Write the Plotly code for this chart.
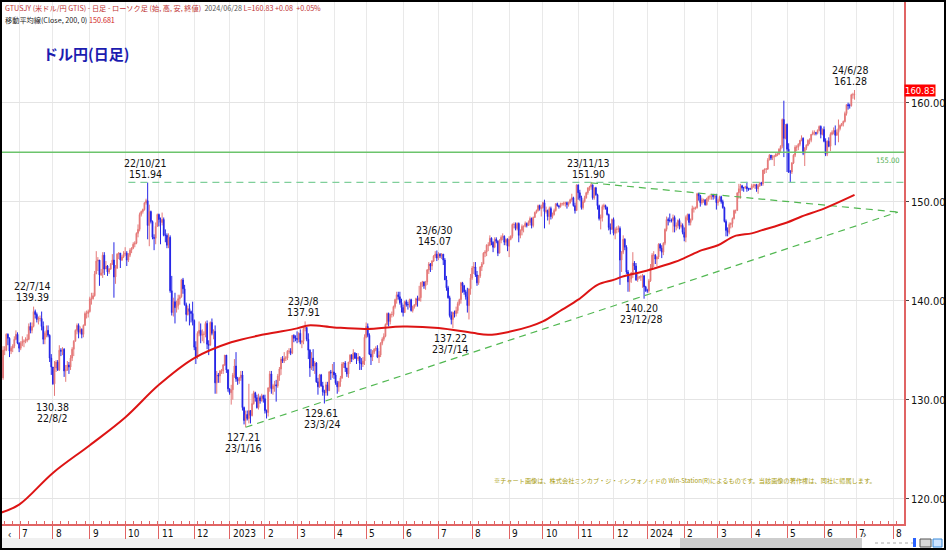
import pandas as pd
import plotly.graph_objects as go

# ---------------- DATA (USD/JPY daily) ----------------
first_open = 134.3

# 2022: Jun(from 16th) .. Dec
close_2022 = [
    [132.2, 135.0, 135.0, 136.6, 136.2, 134.9, 135.2, 135.4, 136.1, 136.6, 135.7],
    [135.2, 135.7, 135.9, 135.9, 136.0, 136.1, 137.4, 137.0, 137.4, 138.9, 138.6, 138.1, 138.2, 138.2, 137.4, 136.1, 136.7, 137.0, 136.5, 134.2, 133.3],
    [131.6, 133.2, 133.8, 133.0, 135.0, 134.9, 135.1, 132.9, 133.0, 133.5, 133.3, 134.2, 135.1, 135.9, 137.0, 137.5, 136.8, 137.1, 136.6, 137.5, 138.7, 138.7, 138.9],
    [140.2, 140.2, 140.5, 142.7, 144.0, 144.1, 142.6, 142.8, 144.6, 143.2, 143.5, 142.9, 143.2, 143.7, 144.1, 142.4, 143.3, 144.7, 144.8, 144.1, 144.4, 144.7],
    [144.8, 144.1, 144.6, 145.1, 145.3, 145.7, 145.8, 146.8, 147.2, 148.7, 149.0, 149.2, 149.9, 150.1, 147.6, 149.0, 148.0, 146.4, 146.3, 147.5, 148.7],
    [148.2, 147.9, 148.2, 146.6, 146.6, 145.6, 146.4, 141.0, 138.8, 139.9, 139.3, 139.5, 140.2, 140.4, 142.1, 141.2, 139.6, 138.6, 139.2, 138.9, 138.7, 138.0],
    [135.3, 134.3, 136.7, 137.0, 136.5, 136.6, 136.6, 137.7, 135.6, 135.5, 137.8, 136.7, 136.9, 131.7, 132.5, 132.4, 132.9, 132.9, 133.5, 134.5, 133.0, 131.1],
]
high_2022 = [
    [134.6, 135.4, 135.4, 136.7, 136.7, 136.3, 135.4, 135.6, 136.4, 137.0, 136.8],
    [135.8, 135.9, 136.4, 136.1, 136.3, 136.6, 137.7, 137.8, 137.8, 139.4, 139.1, 138.8, 138.4, 138.5, 138.9, 137.9, 136.9, 137.5, 137.5, 136.6, 134.6],
    [133.3, 133.9, 134.0, 134.0, 135.5, 135.2, 135.3, 135.2, 133.5, 133.9, 133.8, 134.5, 135.3, 136.0, 137.1, 137.7, 137.7, 137.4, 137.2, 137.6, 138.9, 139.0, 139.1],
    [140.4, 140.8, 140.8, 143.0, 145.0, 144.4, 144.1, 143.2, 144.9, 144.9, 144.0, 143.6, 143.3, 143.8, 144.7, 145.9, 143.6, 144.8, 144.9, 144.8, 144.6, 145.0],
    [145.4, 145.0, 144.8, 145.3, 145.4, 145.9, 146.0, 146.9, 147.7, 148.9, 149.1, 149.3, 149.9, 150.3, 151.94, 149.7, 149.1, 148.1, 146.7, 147.9, 148.8],
    [148.8, 148.4, 148.9, 148.4, 147.2, 146.8, 146.8, 146.6, 142.5, 140.3, 140.8, 140.0, 140.6, 140.6, 142.2, 142.3, 141.6, 139.8, 139.5, 139.7, 139.0, 139.9],
    [138.1, 135.9, 136.9, 137.9, 137.7, 137.1, 136.9, 137.9, 138.0, 136.0, 137.9, 138.2, 137.1, 137.5, 132.9, 132.7, 133.0, 133.1, 133.6, 134.5, 134.4, 133.1],
]
low_2022 = [
    [131.5, 132.0, 134.5, 134.9, 135.5, 134.3, 134.6, 134.8, 135.2, 136.0, 135.6],
    [134.8, 135.0, 135.4, 135.3, 135.7, 135.8, 136.0, 136.7, 136.7, 137.3, 138.2, 137.8, 137.6, 137.9, 137.0, 135.6, 135.6, 136.3, 136.3, 133.8, 132.5],
    [131.5, 130.38, 132.8, 132.9, 132.9, 134.4, 134.5, 132.3, 131.8, 132.9, 132.6, 133.0, 133.9, 134.4, 135.9, 136.6, 136.2, 136.6, 136.2, 136.3, 137.8, 138.2, 138.3],
    [138.8, 139.6, 140.1, 140.4, 142.8, 143.0, 141.5, 142.5, 142.3, 142.6, 143.2, 142.5, 142.7, 143.1, 143.6, 140.3, 141.7, 143.2, 144.2, 143.3, 144.0, 144.3],
    [144.5, 143.5, 143.9, 144.4, 144.8, 145.2, 145.4, 145.7, 146.4, 147.0, 148.5, 148.8, 149.1, 149.7, 146.2, 145.5, 147.8, 146.2, 145.1, 145.7, 147.6],
    [147.5, 145.7, 147.6, 146.5, 145.9, 145.3, 145.3, 140.8, 138.5, 138.4, 137.7, 138.8, 139.1, 139.6, 140.3, 140.7, 139.5, 137.9, 138.5, 137.5, 137.8, 137.5],
    [135.0, 133.6, 134.1, 136.4, 135.7, 135.9, 135.7, 136.3, 135.1, 134.5, 135.5, 136.5, 136.1, 130.6, 130.6, 131.7, 131.7, 132.6, 132.6, 133.4, 132.7, 130.8],
]

# 2023: Jan .. Dec
close_2023 = [
    [130.7, 131.0, 132.5, 133.4, 132.1, 131.9, 132.2, 132.5, 129.2, 127.9, 128.5, 128.1, 128.9, 128.4, 129.6, 130.7, 130.2, 129.2, 130.2, 129.9, 130.4, 130.1],
    [128.9, 128.7, 131.2, 132.6, 131.1, 131.4, 131.5, 131.4, 132.4, 133.1, 134.1, 133.9, 134.2, 134.2, 134.9, 134.9, 134.7, 136.5, 136.2, 136.2],
    [136.1, 136.7, 135.8, 135.9, 137.2, 137.3, 136.1, 135.0, 133.2, 134.2, 133.4, 133.7, 131.8, 131.3, 132.5, 131.4, 130.8, 130.7, 131.5, 130.9, 132.8, 132.7, 132.8],
    [132.5, 131.7, 131.3, 131.8, 132.2, 133.6, 133.7, 133.2, 132.6, 133.8, 134.5, 134.1, 134.7, 134.2, 134.1, 134.3, 133.7, 133.6, 133.9, 136.3],
    [137.4, 136.5, 134.6, 134.3, 134.8, 135.1, 135.2, 134.3, 134.5, 135.7, 136.1, 136.4, 137.6, 138.7, 137.9, 138.6, 138.6, 139.4, 140.1, 140.6, 140.4, 139.8, 139.3],
    [138.8, 139.9, 139.6, 139.6, 140.1, 139.0, 139.4, 139.6, 140.2, 140.0, 140.3, 141.8, 141.9, 141.5, 141.9, 143.1, 143.7, 143.5, 144.0, 144.5, 144.7, 144.3],
    [144.7, 144.5, 144.7, 144.1, 142.1, 141.3, 140.3, 138.5, 138.1, 138.8, 138.7, 139.0, 139.7, 140.1, 141.8, 141.5, 140.9, 140.4, 139.5, 141.2, 142.3],
    [143.3, 143.4, 142.6, 141.8, 142.5, 143.4, 143.7, 144.8, 144.9, 145.6, 145.6, 146.3, 145.9, 145.4, 146.2, 146.0, 144.8, 146.1, 146.4, 146.5, 145.9, 146.2, 145.5],
    [146.2, 146.5, 147.7, 147.7, 147.3, 147.8, 146.6, 147.1, 147.5, 147.5, 147.8, 147.6, 147.9, 148.3, 147.6, 148.4, 148.9, 149.1, 149.6, 149.3, 149.4],
    [149.9, 149.0, 149.1, 148.5, 149.3, 148.5, 148.7, 149.1, 149.8, 149.6, 149.5, 149.8, 149.8, 149.8, 149.9, 149.7, 149.9, 150.2, 150.4, 149.6, 149.1, 151.7],
    [150.9, 150.4, 149.4, 150.0, 150.4, 150.9, 151.4, 151.5, 151.7, 150.4, 151.4, 150.7, 149.6, 148.3, 148.4, 149.5, 149.6, 149.4, 148.7, 147.4, 147.2, 148.2],
    [146.8, 147.2, 147.2, 147.3, 144.1, 144.9, 146.2, 145.4, 142.9, 141.9, 142.2, 142.8, 143.8, 143.5, 142.1, 142.4, 142.4, 142.4, 142.5, 141.4, 141.0],
]
high_2023 = [
    [131.1, 131.5, 132.7, 134.1, 134.8, 132.3, 132.3, 132.9, 132.9, 129.3, 128.9, 128.9, 131.6, 128.9, 130.6, 130.9, 130.8, 130.5, 130.6, 130.4, 130.6, 130.5],
    [130.5, 129.0, 131.2, 132.9, 132.9, 131.6, 131.9, 132.0, 132.6, 133.3, 134.3, 134.4, 134.8, 134.4, 135.0, 135.2, 135.2, 136.5, 136.6, 136.5],
    [136.9, 136.8, 137.1, 136.0, 137.4, 137.91, 137.3, 136.7, 135.1, 134.8, 135.1, 133.9, 133.8, 132.2, 132.6, 132.6, 131.8, 131.0, 131.8, 131.8, 132.9, 133.0, 133.6],
    [133.8, 132.7, 131.9, 131.9, 132.4, 133.8, 133.8, 133.9, 133.2, 133.8, 134.6, 134.6, 135.1, 134.8, 134.7, 134.7, 134.4, 134.2, 134.3, 136.6],
    [137.8, 137.7, 136.7, 135.1, 135.0, 135.2, 135.4, 135.5, 134.9, 135.8, 136.3, 136.7, 137.7, 138.8, 138.8, 138.7, 138.9, 139.5, 140.2, 140.9, 140.9, 140.9, 140.2],
    [139.6, 140.0, 140.1, 139.9, 140.2, 140.2, 139.5, 139.6, 140.3, 140.5, 141.5, 141.9, 142.0, 141.9, 142.0, 143.2, 143.9, 143.8, 144.1, 144.6, 145.0, 145.07],
    [144.9, 144.8, 144.8, 144.7, 144.3, 142.5, 141.5, 140.5, 138.9, 138.9, 139.0, 139.4, 139.9, 140.2, 141.9, 141.9, 141.6, 141.1, 141.3, 141.2, 142.7],
    [143.5, 143.9, 143.9, 143.0, 142.6, 143.5, 143.9, 144.9, 145.1, 145.7, 145.9, 146.6, 146.4, 146.0, 146.4, 146.4, 146.1, 146.2, 146.6, 146.8, 146.6, 146.3, 146.3],
    [146.5, 146.6, 147.8, 147.9, 147.9, 147.9, 147.9, 147.2, 147.7, 147.6, 148.0, 147.9, 148.1, 148.5, 148.4, 148.5, 149.0, 149.2, 149.7, 149.7, 149.7],
    [150.0, 150.2, 149.5, 149.2, 149.5, 149.5, 148.9, 149.3, 149.8, 149.9, 149.6, 149.9, 149.9, 150.0, 150.0, 150.0, 150.0, 150.3, 150.8, 150.5, 149.9, 151.7],
    [151.7, 151.2, 150.6, 150.2, 150.6, 151.0, 151.4, 151.6, 151.9, 151.7, 151.4, 151.5, 150.8, 149.7, 148.7, 149.7, 149.8, 149.7, 149.5, 148.8, 147.8, 148.3],
    [148.4, 147.4, 147.5, 147.6, 147.5, 145.0, 146.6, 146.3, 145.6, 143.1, 142.6, 142.9, 144.9, 144.0, 143.8, 142.8, 142.5, 142.6, 142.7, 142.6, 141.5],
]
low_2023 = [
    [130.5, 129.5, 130.0, 132.2, 131.8, 131.5, 131.6, 131.9, 128.9, 127.5, 127.21, 127.9, 127.6, 127.6, 128.3, 129.5, 129.8, 129.1, 129.0, 129.6, 129.8, 129.7],
    [128.6, 128.1, 128.3, 130.8, 130.6, 130.5, 130.8, 129.8, 131.2, 131.9, 132.5, 133.7, 133.7, 133.9, 134.0, 134.6, 134.5, 134.6, 135.8, 135.9],
    [135.7, 135.8, 135.6, 135.2, 135.6, 136.9, 135.9, 134.1, 132.3, 133.0, 132.9, 132.6, 131.7, 130.5, 131.2, 131.3, 130.4, 129.61, 130.4, 130.4, 130.9, 132.0, 132.2],
    [132.1, 131.5, 130.6, 130.8, 131.3, 132.1, 133.2, 132.8, 132.3, 132.2, 133.6, 133.8, 134.0, 134.1, 133.6, 133.9, 133.0, 133.0, 133.3, 133.5],
    [136.2, 136.3, 134.5, 133.5, 133.9, 134.6, 134.9, 134.2, 133.7, 134.3, 135.5, 135.9, 136.3, 137.5, 137.4, 137.6, 138.3, 138.4, 139.2, 139.7, 140.1, 139.6, 138.8],
    [138.4, 138.8, 139.4, 139.1, 139.3, 138.9, 138.8, 139.2, 139.4, 139.4, 140.0, 139.9, 141.4, 141.2, 141.1, 141.6, 142.7, 142.9, 143.1, 143.9, 144.3, 144.0],
    [144.1, 144.3, 144.2, 143.6, 142.1, 141.0, 140.2, 138.3, 137.6, 137.22, 138.3, 138.4, 138.7, 139.5, 139.7, 140.8, 140.6, 140.1, 138.8, 138.1, 140.6],
    [142.1, 142.7, 142.4, 141.5, 141.6, 142.3, 143.0, 143.8, 144.4, 144.5, 145.0, 145.5, 145.6, 144.9, 145.3, 145.8, 144.5, 144.8, 145.8, 146.1, 145.6, 145.6, 145.0],
    [144.4, 146.1, 146.3, 147.3, 147.1, 147.1, 145.9, 146.3, 146.6, 146.9, 147.4, 147.4, 147.6, 147.6, 147.3, 147.4, 148.4, 148.8, 149.0, 149.1, 148.5],
    [149.3, 147.3, 148.8, 148.1, 147.7, 148.2, 148.3, 148.6, 149.0, 149.5, 149.3, 149.4, 149.6, 149.6, 149.5, 149.3, 149.5, 149.8, 150.0, 149.5, 148.8, 149.1],
    [150.2, 150.1, 149.2, 149.2, 149.9, 150.3, 150.7, 151.1, 151.2, 150.2, 150.2, 150.6, 149.2, 148.1, 147.2, 148.0, 149.2, 149.2, 148.6, 147.1, 146.7, 147.2],
    [146.6, 146.2, 146.8, 146.9, 141.6, 142.9, 144.7, 145.1, 142.7, 140.9, 140.9, 141.8, 142.3, 143.1, 142.0, 141.9, 142.2, 142.0, 141.3, 140.2, 140.9],
]

# 2024: Jan .. Jun(to 28th)
close_2024 = [
    [141.0, 142.0, 143.3, 144.6, 144.6, 144.2, 144.4, 145.7, 145.3, 144.9, 145.8, 147.2, 148.2, 148.1, 148.1, 148.1, 148.4, 147.5, 147.6, 148.1, 147.5, 147.6, 146.9],
    [146.4, 148.4, 148.7, 147.9, 148.2, 149.3, 149.3, 149.4, 150.8, 150.6, 149.9, 150.2, 150.2, 149.7, 150.3, 150.5, 150.5, 150.7, 150.5, 150.6, 149.9],
    [150.1, 150.5, 150.0, 149.4, 148.0, 147.1, 146.9, 147.7, 147.8, 148.3, 149.1, 149.1, 150.9, 151.3, 151.6, 151.4, 151.4, 151.5, 151.3, 151.3, 151.3],
    [151.6, 151.6, 151.7, 151.3, 151.6, 151.9, 151.8, 153.2, 153.3, 153.3, 154.2, 154.7, 154.4, 154.6, 154.6, 154.8, 154.8, 155.3, 155.6, 158.3, 156.4, 157.8],
    [155.3, 153.0, 153.0, 153.9, 154.7, 155.5, 155.5, 155.8, 156.2, 156.4, 154.9, 155.4, 155.7, 156.2, 156.2, 156.8, 157.0, 157.0, 156.9, 157.2, 157.6, 156.8, 157.3],
    [156.1, 154.8, 156.1, 155.6, 156.8, 157.0, 157.2, 156.7, 157.0, 157.4, 157.7, 157.9, 158.1, 158.9, 159.8, 159.7, 159.7, 160.8, 160.8, 160.83],
]
high_2024 = [
    [141.2, 142.2, 143.7, 144.8, 145.0, 144.7, 144.5, 145.8, 145.8, 145.6, 145.9, 147.3, 148.5, 148.4, 148.8, 148.3, 148.7, 148.6, 147.9, 148.2, 148.3, 147.9, 147.8],
    [147.4, 148.6, 148.8, 148.8, 148.3, 149.6, 149.5, 149.5, 150.9, 150.9, 150.7, 150.4, 150.3, 150.2, 150.4, 150.6, 150.7, 150.8, 150.8, 150.8, 150.8],
    [150.3, 150.6, 150.6, 150.2, 149.5, 148.2, 147.4, 147.9, 147.9, 148.4, 149.2, 149.2, 150.9, 151.8, 151.8, 151.7, 151.5, 151.6, 152.0, 151.4, 151.4],
    [151.8, 151.8, 151.8, 151.8, 151.8, 152.0, 152.0, 153.2, 153.3, 153.4, 154.4, 154.8, 154.7, 154.7, 154.7, 154.9, 154.9, 155.4, 155.7, 158.4, 160.2, 157.8],
    [157.9, 155.9, 153.2, 154.0, 154.8, 155.7, 155.7, 155.9, 156.2, 156.7, 156.5, 155.5, 155.8, 156.3, 156.4, 156.8, 157.2, 157.2, 157.0, 157.3, 157.7, 157.7, 157.4],
    [157.6, 156.4, 156.2, 156.5, 157.0, 157.2, 157.5, 157.7, 157.3, 158.3, 157.8, 157.9, 158.2, 159.1, 159.8, 160.0, 159.9, 160.9, 161.0, 161.28],
]
low_2024 = [
    [140.8, 140.8, 141.9, 143.1, 143.4, 143.7, 143.5, 144.2, 145.0, 144.3, 144.6, 145.6, 147.0, 147.6, 147.9, 147.9, 146.9, 146.9, 147.1, 147.3, 147.2, 147.3, 146.7],
    [146.0, 145.9, 148.1, 147.6, 147.6, 148.1, 148.9, 149.2, 149.3, 150.1, 149.5, 149.7, 149.9, 149.6, 149.6, 150.0, 150.2, 150.2, 150.2, 150.3, 149.2],
    [149.6, 150.0, 149.8, 149.3, 147.9, 146.5, 146.5, 146.7, 147.3, 147.4, 148.2, 148.8, 149.2, 150.3, 150.3, 151.1, 151.0, 151.3, 151.0, 151.1, 151.2],
    [151.2, 151.4, 151.3, 151.0, 150.8, 151.5, 151.6, 151.6, 152.8, 152.9, 153.2, 154.3, 154.2, 154.2, 153.6, 154.5, 154.6, 154.7, 155.0, 155.4, 154.5, 156.3],
    [153.0, 152.9, 151.9, 152.8, 153.8, 154.5, 155.1, 155.2, 155.6, 156.1, 154.7, 153.6, 155.2, 155.6, 155.8, 156.0, 156.7, 156.7, 156.7, 156.8, 157.1, 156.4, 156.7],
    [156.0, 154.6, 154.6, 155.5, 155.1, 156.7, 156.8, 155.7, 156.7, 156.0, 157.2, 157.6, 157.6, 158.0, 158.7, 159.3, 159.4, 159.6, 160.4, 160.3],
]

# 200-day moving average, read at points along the red line
ma_dates = ["2022-06-16", "2022-07-01", "2022-08-01", "2022-09-01", "2022-10-03", "2022-11-01",
            "2022-12-01", "2023-01-03", "2023-02-01", "2023-03-01", "2023-03-10", "2023-04-03",
            "2023-05-01", "2023-06-01", "2023-07-03", "2023-08-01", "2023-08-15", "2023-09-01",
            "2023-09-20", "2023-10-02", "2023-10-18", "2023-11-01", "2023-11-17", "2023-12-01",
            "2023-12-08", "2024-01-02", "2024-01-24", "2024-02-01", "2024-02-16", "2024-03-01",
            "2024-03-15", "2024-04-01", "2024-04-09", "2024-05-01", "2024-05-14", "2024-06-03",
            "2024-06-28"]
ma_values = [118.6, 119.4, 122.6, 125.4, 128.2, 131.5,
             134.2, 135.8, 136.6, 137.2, 137.5, 137.3,
             137.15, 137.4, 137.25, 136.75, 136.55, 136.85,
             137.4, 137.9, 139.1, 140.1, 141.6, 142.1,
             142.4, 143.1, 143.9, 144.3, 145.1, 145.6,
             146.5, 146.8, 147.1, 147.9, 148.5, 149.3,
             150.68]

# drawn lines (support / resistance / trend)
support_level = 155.00
resist_level = 151.94
resist_start = "2022-10-05"
trend_up_dates = ["2023-01-16", "2024-08-06"]
trend_up_values = [127.21, 148.95]
trend_down_dates = ["2023-11-13", "2024-08-06"]
trend_down_values = [151.90, 148.95]

# peak / trough labels (two lines each)
label_texts = [
    ("22/7/14", "139.39"), ("130.38", "22/8/2"), ("22/10/21", "151.94"),
    ("127.21", "23/1/16"), ("23/3/8", "137.91"), ("129.61", "23/3/24"),
    ("23/6/30", "145.07"), ("137.22", "23/7/14"), ("23/11/13", "151.90"),
    ("140.20", "23/12/28"), ("24/6/28", "161.28"),
]
label_pos = [(32, 285.5), (52, 406.5), (145, 162.5), (243, 437), (303, 300.5), (321.5, 413),
             (434, 230), (450, 338), (588, 162.5), (641, 308), (850, 70)]

month_labels = ["7", "8", "9", "10", "11", "12", "2023", "2", "3", "4", "5", "6", "7", "8", "9",
                "10", "11", "12", "2024", "2", "3", "4", "5", "6", "7", "8"]
y_ticks = [120, 130, 140, 150, 160]
last_price = 160.83

# ---------------- BUILD ----------------
def month_days(y, m, d0=1, d1=None):
    start = pd.Timestamp(y, m, d0)
    end = pd.Timestamp(y, m, 1) + pd.offsets.MonthEnd(0) if d1 is None else pd.Timestamp(y, m, d1)
    return list(pd.bdate_range(start, end))

blocks = []
for i, m in enumerate(range(6, 13)):
    blocks.append((month_days(2022, m, 16 if m == 6 else 1), close_2022[i], high_2022[i], low_2022[i]))
for i, m in enumerate(range(1, 13)):
    blocks.append((month_days(2023, m), close_2023[i], high_2023[i], low_2023[i]))
for i, m in enumerate(range(1, 7)):
    blocks.append((month_days(2024, m, 1, 28 if m == 6 else None), close_2024[i], high_2024[i], low_2024[i]))

dates, closes, highs, lows = [], [], [], []
for d, c, h, l in blocks:
    n = min(len(d), len(c), len(h), len(l))
    dates += d[:n]; closes += c[:n]; highs += h[:n]; lows += l[:n]

opens = [first_open] + closes[:-1]
highs = [max(h, o, c) for h, o, c in zip(highs, opens, closes)]
lows = [min(l, o, c) for l, o, c in zip(lows, opens, closes)]

# plot-area pixel geometry
L, R, T, B = 1, 904, 2, 524
W, H = R - L, B - T
def px(x):
    return (x - L) / W
def py(y):
    return (B - y) / H

X_RANGE = ["2022-06-15 17:00", "2024-08-09 19:00"]
Y_RANGE = [117.44, 170.17]
NARROW = "Liberation Sans Narrow, DejaVu Sans Condensed, Liberation Sans, sans-serif"
CJK = "Noto Sans CJK JP, sans-serif"
AXRED = "#e06464"

fig = go.Figure()

fig.add_trace(go.Scatter(x=X_RANGE, y=[support_level] * 2, mode="lines",
                         line=dict(color="#6cc46c", width=1.5), hoverinfo="skip"))
fig.add_trace(go.Scatter(x=[resist_start, X_RANGE[1]], y=[resist_level] * 2, mode="lines",
                         line=dict(color="#7fcf9a", width=1.3, dash="7px,5px"), hoverinfo="skip"))
fig.add_trace(go.Scatter(x=trend_up_dates, y=trend_up_values, mode="lines",
                         line=dict(color="#52b852", width=1.2, dash="7px,5px"), hoverinfo="skip"))
fig.add_trace(go.Scatter(x=trend_down_dates, y=trend_down_values, mode="lines",
                         line=dict(color="#52b852", width=1.2, dash="7px,5px"), hoverinfo="skip"))

fig.add_trace(go.Candlestick(
    x=dates, open=opens, high=highs, low=lows, close=closes,
    increasing=dict(line=dict(color="#e57a7a", width=1), fillcolor="#e05a5a"),
    decreasing=dict(line=dict(color="#2626e6", width=1), fillcolor="#0000e0"),
    whiskerwidth=0, hoverinfo="skip"))

fig.add_trace(go.Scatter(x=ma_dates, y=ma_values, mode="lines", line=dict(color="#dd1414", width=2),
                         line_shape="spline", hoverinfo="skip"))

tick_dates = []
for ym in pd.period_range("2022-07", "2024-08", freq="M"):
    tick_dates.append(pd.bdate_range(ym.start_time, ym.end_time)[0])

ann = []
for d, t in zip(tick_dates, month_labels):
    ann.append(dict(x=d, xref="x", y=py(533), yref="paper", text=t, showarrow=False,
                    xanchor="left", yanchor="middle", xshift=1,
                    font=dict(family=NARROW, size=10, color="#111")))

for (a, b), (x, y) in zip(label_texts, label_pos):
    for k, t in enumerate((a, b)):
        ann.append(dict(x=px(x), y=py(y + 11.2 * k), xref="paper", yref="paper", text=t,
                        showarrow=False, xanchor="center", yanchor="middle",
                        font=dict(family=NARROW, size=10.5, color="#111")))

ann += [
    dict(x=px(3), y=py(8), xref="paper", yref="paper", xanchor="left", yanchor="middle",
         showarrow=False, font=dict(family=CJK, size=7.2, color="#c03434"),
         text="GTUSJY (米ドル/円 GTIS) - 日足 - ローソク足 (始, 高, 安, 終値)  "
              "<span style='color:#555'>2024/06/28</span> L=160.83 +0.08  +0.05%"),
    dict(x=px(3), y=py(20), xref="paper", yref="paper", xanchor="left", yanchor="middle",
         showarrow=False, font=dict(family=CJK, size=7.2, color="#222"),
         text="移動平均線(Close, 200, 0) <span style='color:#d02020'>150.681</span>"),
    dict(x=px(41), y=py(53), xref="paper", yref="paper", xanchor="left", yanchor="middle",
         showarrow=False, font=dict(family=CJK, size=15, color="#1c1cb0"),
         text="<b>ドル円(日足)</b>"),
    dict(x=px(878), y=py(480), xref="paper", yref="paper", xanchor="right", yanchor="middle",
         showarrow=False, font=dict(family=CJK, size=6.2, color="#a89c10"),
         text="※チャート画像は、株式会社ミンカブ・ジ・インフォノイドの Win-Station(R)によるものです。"
              "当該画像の著作権は、同社に帰属します。"),
    dict(x=px(902), y=support_level, xref="paper", yref="y", xanchor="right", yanchor="top",
         yshift=-2, showarrow=False, font=dict(family=NARROW, size=7.5, color="#4fae4f"),
         text=f"{support_level:.2f}"),
    dict(x=px(920), y=last_price, xref="paper", yref="y", xanchor="center", yanchor="middle",
         yshift=4, showarrow=False, bgcolor="#ff0000", borderpad=0,
         font=dict(family=NARROW, size=9.5, color="white"), text=f"{last_price:.2f}"),
    dict(x=px(6), y=py(543), xref="paper", yref="paper", showarrow=False, text="‹",
         font=dict(size=11, color="#333")),
    dict(x=px(868), y=py(543), xref="paper", yref="paper", showarrow=False, text="›",
         font=dict(size=11, color="#333")),
]

shapes = [
    dict(type="rect", xref="paper", yref="paper", x0=px(1), x1=px(862), y0=py(548), y1=py(538),
         fillcolor="#f0f0f0", line=dict(width=0), layer="below"),
    dict(type="rect", xref="paper", yref="paper", x0=px(680), x1=px(862), y0=py(548), y1=py(538),
         fillcolor="#cdcdcd", line=dict(width=0)),
    dict(type="line", xref="paper", yref="paper", x0=px(875), x1=px(914), y0=py(543), y1=py(543),
         line=dict(color="#aaaaaa", width=1, dash="dot")),
    dict(type="rect", xref="paper", yref="paper", x0=px(913), x1=px(916), y0=py(547), y1=py(538),
         fillcolor="#2a62ff", line=dict(width=0)),
    dict(type="rect", xref="paper", yref="paper", x0=px(920), x1=px(931), y0=py(547), y1=py(539),
         fillcolor="#d8d8d8", line=dict(color="#555", width=1)),
    dict(type="rect", xref="paper", yref="paper", x0=px(933), x1=px(942), y0=py(547), y1=py(539),
         fillcolor="#cfe4ff", line=dict(color="#3a8ad8", width=1)),
    dict(type="rect", xref="paper", yref="paper", x0=px(1), x1=px(945), y0=py(549), y1=py(1),
         line=dict(color="#000", width=2), fillcolor="rgba(0,0,0,0)"),
]

fig.update_layout(
    width=946, height=550, autosize=False,
    margin=dict(l=L, r=946 - R, t=T, b=550 - B, pad=0),
    paper_bgcolor="white", plot_bgcolor="white",
    showlegend=False, annotations=ann, shapes=shapes,
    xaxis=dict(type="date", range=X_RANGE, rangebreaks=[dict(bounds=["sat", "mon"])],
               rangeslider=dict(visible=False), tickmode="array", tickvals=tick_dates,
               showticklabels=False, ticks="outside", ticklen=13, tickcolor=AXRED, tickwidth=1,
               showgrid=True, gridcolor="#e9e9e9", gridwidth=1, zeroline=False,
               showline=True, linecolor=AXRED, linewidth=1.5,
               minor=dict(ticks="inside", ticklen=3, tickcolor=AXRED, tickwidth=1,
                          dtick=7 * 86400000, tick0="2022-06-20", showgrid=False)),
    yaxis=dict(side="right", range=Y_RANGE, tickmode="array", tickvals=y_ticks,
               ticktext=[f"{v:.2f}" for v in y_ticks], ticks="outside", ticklen=3,
               tickcolor="#444", showgrid=True, gridcolor="#e4e4e4", zeroline=False,
               showline=True, linecolor=AXRED, linewidth=1.5,
               tickfont=dict(family=NARROW, size=11, color="#111")),
)

fig.write_html("out.html")
